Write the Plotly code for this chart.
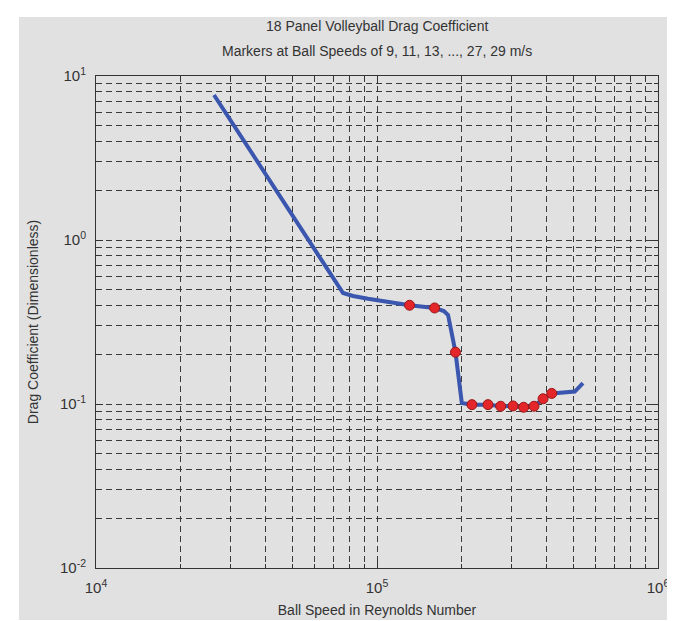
import plotly.graph_objects as go

# Data
line_re = [26300, 75700, 82200, 92900, 130600, 160300, 173000, 179000, 190200,
           196800, 200400, 217700, 248300, 275500, 304800, 332500, 362000,
           389900, 418700, 505700, 540700]
line_cd = [7.66, 0.475, 0.456, 0.438, 0.400, 0.385, 0.369, 0.349, 0.207,
           0.125, 0.1014, 0.0991, 0.0991, 0.0969, 0.0973, 0.0955, 0.0969,
           0.1076, 0.116, 0.119, 0.134]

marker_re = [130600, 160300, 190200, 217700, 248300, 275500, 304800, 332500,
             362000, 389900, 418700]
marker_cd = [0.400, 0.385, 0.207, 0.0991, 0.0991, 0.0969, 0.0973, 0.0955,
             0.0969, 0.1076, 0.116]

x_major = [1e4, 1e5, 1e6]
x_major_text = ["10<sup>4</sup>", "10<sup>5</sup>", "10<sup>6</sup>"]
y_major = [1e-2, 1e-1, 1e0, 1e1]
y_major_text = ["10<sup>-2</sup>", "10<sup>-1</sup>", "10<sup>0</sup>", "10<sup>1</sup>"]

x_minor = [m * d for d in (1e4, 1e5) for m in range(2, 10)]
y_minor = [m * d for d in (1e-2, 1e-1, 1e0) for m in range(2, 10)]

title_line1 = "18 Panel Volleyball Drag Coefficient"
title_line2 = "Markers at Ball Speeds of 9, 11, 13, ..., 27, 29 m/s"

fig = go.Figure()
fig.add_trace(go.Scatter(x=line_re, y=line_cd, mode="lines",
                         line=dict(color="#3b56ae", width=4), hoverinfo="skip"))
fig.add_trace(go.Scatter(x=marker_re, y=marker_cd, mode="markers",
                         marker=dict(color="#e4262a", size=10,
                                     line=dict(color="#9a1818", width=1))))

font = "Liberation Sans, Arial, sans-serif"
grid_dash = "6px,4px"
axis_common = dict(
    type="log", showline=True, linecolor="#333333", linewidth=1, mirror="allticks",
    ticks="inside", ticklen=7, tickcolor="#333333",
    showgrid=True, gridcolor="#3a3a3a", gridwidth=1, griddash=grid_dash,
    zeroline=False, tickfont=dict(family=font, size=15, color="#333333"),
    ticklabelstandoff=6,
)
minor_common = dict(tickmode="array", ticks="inside", ticklen=4,
                    tickcolor="#333333", showgrid=True, gridcolor="#3a3a3a",
                    griddash=grid_dash, gridwidth=1)

fig.update_layout(
    width=675, height=621,
    paper_bgcolor="white", plot_bgcolor="white",
    showlegend=False,
    margin=dict(l=88, r=25, t=68, b=61),
    xaxis=dict(axis_common, range=[4, 6], tickmode="array", tickvals=x_major,
               ticktext=x_major_text,
               minor=dict(minor_common, tickvals=x_minor),
               title=dict(text="Ball Speed in Reynolds Number", standoff=10,
                          font=dict(family=font, size=14, color="#333333"))),
    yaxis=dict(axis_common, range=[-2, 1], tickmode="array", tickvals=y_major,
               ticktext=y_major_text,
               minor=dict(minor_common, tickvals=y_minor),
               title=dict(text="Drag Coefficient (Dimensionless)", standoff=18,
                          font=dict(family=font, size=14, color="#333333"))),
    annotations=[
        dict(text=title_line1, xref="paper", yref="paper", x=0.5, y=(560 - 18) / 492,
             xanchor="center", yanchor="middle", showarrow=False,
             font=dict(family=font, size=14, color="#333333")),
        dict(text=title_line2, xref="paper", yref="paper", x=0.5, y=(560 - 43) / 492,
             xanchor="center", yanchor="middle", showarrow=False,
             font=dict(family=font, size=14, color="#333333")),
    ],
    shapes=[dict(type="rect", xref="paper", yref="paper", layer="below",
                 x0=-77 / 562, x1=(664 - 88) / 562, y0=-(612 - 560) / 492, y1=(560 - 9) / 492,
                 fillcolor="#e1e1e1", line=dict(width=0))],
)

fig.write_html("out.html")
